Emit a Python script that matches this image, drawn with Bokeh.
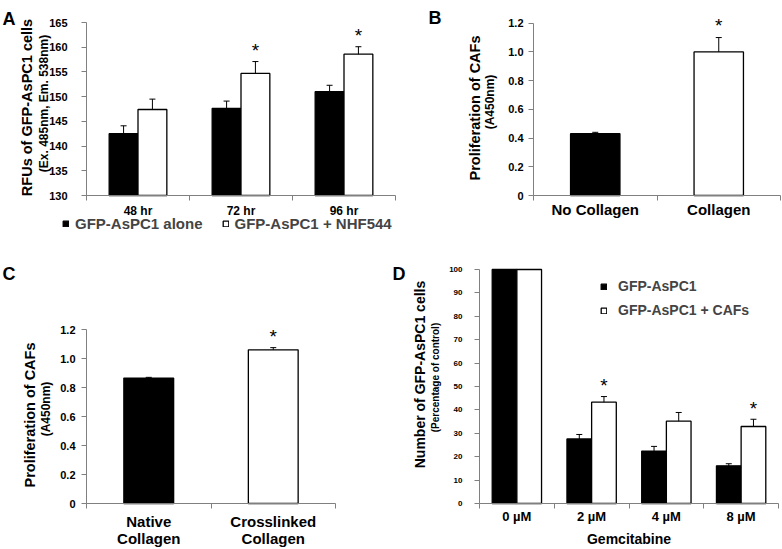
import math
from bokeh.plotting import figure
from bokeh.layouts import row, column
from bokeh.models import (ColumnDataSource, Whisker, TeeHead, FixedTicker, Label,
                          Legend, LegendItem, Range1d, NumeralTickFormatter)
from bokeh.core.properties import value
from bokeh.embed import file_html
from bokeh.resources import INLINE

FONT = "Liberation Sans"
AXIS_COLOR = "#808080"

# ---------------- data ----------------
# Panel A
a_cats = ["48 hr", "72 hr", "96 hr"]
a_alone = [142.5, 147.6, 151.0]
a_alone_err = [1.6, 1.5, 1.3]
a_nhf = [147.4, 154.7, 158.6]
a_nhf_err = [2.1, 2.4, 1.5]
a_sig = [False, True, True]
a_yticks = [130, 135, 140, 145, 150, 155, 160, 165]
a_series = ["GFP-AsPC1 alone", "GFP-AsPC1 + NHF544"]

# Panel B
b_cats = ["No Collagen", "Collagen"]
b_vals = [0.43, 1.0]
b_err = [0.01, 0.10]
b_sig = [False, True]
b_yticks = [0, 0.2, 0.4, 0.6, 0.8, 1.0, 1.2]

# Panel C
c_cats = ["Native\nCollagen", "Crosslinked\nCollagen"]
c_vals = [0.865, 1.06]
c_err = [0.005, 0.015]
c_sig = [False, True]
c_yticks = [0, 0.2, 0.4, 0.6, 0.8, 1.0, 1.2]

# Panel D
d_cats = ["0 µM", "2 µM", "4 µM", "8 µM"]
d_aspc = [100, 27.6, 22.4, 16.1]
d_aspc_err = [0, 1.9, 2.0, 0.9]
d_caf = [100, 43.3, 35.2, 32.9]
d_caf_err = [0, 2.4, 3.7, 3.1]
d_sig = [False, True, False, True]
d_yticks = [0, 10, 20, 30, 40, 50, 60, 70, 80, 90, 100]
d_series = ["GFP-AsPC1", "GFP-AsPC1 + CAFs"]


def make_fig(W, H, box, cats, ylo, yhi, yticks, ytick_size, xtick_size,
             ystandoff, xstandoff):
    """box = (left, top, right, bottom) of the plotting area in canvas pixels.
    The Bokeh frame covers the whole canvas; axes are pinned with fixed_location."""
    n = len(cats)
    l, t, r, b = box
    sx = (r - l) / n
    sy = (b - t) / (yhi - ylo)
    p = figure(width=W, height=H,
               x_range=Range1d(-l / sx, n + (W - r) / sx),
               y_range=Range1d(ylo - (H - b) / sy, yhi + t / sy),
               output_backend="svg", toolbar_location=None,
               min_border_left=0, min_border_right=0, min_border_top=0,
               min_border_bottom=0)
    p.outline_line_color = None
    p.grid.visible = False
    p.background_fill_color = "white"
    p.border_fill_color = "white"
    ya = p.yaxis[0]
    ya.fixed_location = 0
    ya.bounds = (ylo, yhi)
    ya.ticker = FixedTicker(ticks=yticks)
    ya.axis_line_color = AXIS_COLOR
    ya.major_tick_line_color = AXIS_COLOR
    ya.major_tick_out = 5
    ya.major_tick_in = 0
    ya.minor_tick_line_color = None
    ya.major_label_text_font = FONT
    ya.major_label_text_font_style = "bold"
    ya.major_label_text_font_size = ytick_size
    ya.major_label_text_color = "black"
    ya.major_label_standoff = ystandoff
    xa = p.xaxis[0]
    xa.fixed_location = ylo
    xa.bounds = (0, n)
    centers = [i + 0.5 for i in range(n)]
    xa.ticker = FixedTicker(ticks=centers, minor_ticks=list(range(n + 1)))
    xa.major_label_overrides = {c: lab for c, lab in zip(centers, cats)}
    xa.axis_line_color = AXIS_COLOR
    xa.major_tick_line_color = None
    xa.major_tick_out = 0
    xa.major_tick_in = 0
    xa.minor_tick_line_color = AXIS_COLOR
    xa.minor_tick_out = 5
    xa.minor_tick_in = 0
    xa.major_label_text_font = FONT
    xa.major_label_text_font_style = "bold"
    xa.major_label_text_font_size = xtick_size
    xa.major_label_text_color = "black"
    xa.major_label_standoff = xstandoff
    return p


def add_text(p, x, y, text, size, angle=0.0, align="left", baseline="alphabetic"):
    p.add_layout(Label(x=x, y=y, x_units="screen", y_units="screen", text=text,
                       text_font=FONT, text_font_size=size, text_font_style="bold",
                       angle=angle, text_align=align, text_baseline=baseline,
                       text_color="black"))


def add_ylabels(p, main, main_size, mx, my, sub, sub_size, sx_, sy_):
    add_text(p, mx, my, main, main_size, math.pi / 2, "center", "middle")
    add_text(p, sx_, sy_, sub, sub_size, math.pi / 2, "center", "middle")


def add_bars(p, xs, vals, errs, base, color, width):
    src = ColumnDataSource(dict(x=xs, top=vals))
    r = p.vbar(x="x", top="top", width=width, bottom=base, source=src,
               fill_color=color, line_color="black", line_width=1.3)
    ex = [x for x, e in zip(xs, errs) if e > 0]
    up = [v + e for v, e in zip(vals, errs) if e > 0]
    lo = [v - e for v, e in zip(vals, errs) if e > 0]
    esrc = ColumnDataSource(dict(x=ex, upper=up, lower=lo))
    p.add_layout(Whisker(source=esrc, base="x", upper="upper", lower="lower",
                         line_color="black", line_width=1,
                         upper_head=TeeHead(size=6, line_color="black", line_width=1),
                         lower_head=TeeHead(size=6, line_color="black", line_width=1)))
    return r


def add_stars(p, xs, vals, errs, sig, offset):
    sx = [x for x, s in zip(xs, sig) if s]
    sy = [v + e for v, e, s in zip(vals, errs, sig) if s]
    src = ColumnDataSource(dict(x=sx, y=sy, t=["*"] * len(sx)))
    p.text(x="x", y="y", text="t", source=src, text_font=value(FONT),
           text_font_size="19px", text_align="center", text_baseline="middle",
           y_offset=offset, text_color="black")


def legend(items, loc, orientation, size, standoff, spacing):
    return Legend(items=[LegendItem(label=lab, renderers=[r]) for lab, r in items],
                  location=loc, orientation=orientation, glyph_width=7,
                  glyph_height=7, label_standoff=standoff, spacing=spacing,
                  padding=0, margin=0, border_line_color=None,
                  background_fill_alpha=0, label_text_font=FONT,
                  label_text_font_size=size, label_text_font_style="bold",
                  label_height=7)


# ---------------- Panel A ----------------
pa = make_fig(400, 250, (86, 22, 395, 195), a_cats, 130, 165, a_yticks,
              "11px", "12px", 14, 3)
bw_a = 0.28
xa_black = [i + 0.5 - bw_a / 2 for i in range(len(a_cats))]
xa_white = [i + 0.5 + bw_a / 2 for i in range(len(a_cats))]
ra1 = add_bars(pa, xa_black, a_alone, a_alone_err, 130, "black", bw_a)
ra2 = add_bars(pa, xa_white, a_nhf, a_nhf_err, 130, "white", bw_a)
add_stars(pa, xa_white, a_nhf, a_nhf_err, a_sig, -11)
add_text(pa, 2, 232, "A", "18px")
add_ylabels(pa, "RFUs of GFP-AsPC1 cells", "14.5px", 26, 143,
            "(Ex. 485nm, Em. 538nm)", "12px", 43, 147)
pa.add_layout(legend(list(zip(a_series, [ra1, ra2])), (62, 18), "horizontal",
                     "15px", 6, 19))

# ---------------- Panel B ----------------
pb = make_fig(382, 250, (133, 22.7, 380, 195), b_cats, 0, 1.2, b_yticks,
              "11px", "15px", 5, 0)
pb.yaxis[0].formatter = NumeralTickFormatter(format="0.0")
pb.yaxis[0].major_label_overrides = {0: "0"}
bw_b = 0.4
xb = [i + 0.5 for i in range(len(b_cats))]
add_bars(pb, xb[:1], b_vals[:1], b_err[:1], 0, "black", bw_b)
add_bars(pb, xb[1:], b_vals[1:], b_err[1:], 0, "white", bw_b)
add_stars(pb, xb, b_vals, b_err, b_sig, -12)
add_text(pb, 28, 233, "B", "18px")
add_ylabels(pb, "Proliferation of CAFs", "14.5px", 74, 142.5,
            "(A450nm)", "12px", 89, 148.5)

# ---------------- Panel C ----------------
pc = make_fig(390, 299, (86, 79, 335, 253), c_cats, 0, 1.2, c_yticks,
              "11px", "15px", 6, 4)
pc.yaxis[0].formatter = NumeralTickFormatter(format="0.0")
pc.yaxis[0].major_label_overrides = {0: "0"}
pc.xaxis[0].major_label_text_line_height = 1.05
bw_c = 0.4
xc = [i + 0.5 for i in range(len(c_cats))]
add_bars(pc, xc[:1], c_vals[:1], c_err[:1], 0, "black", bw_c)
add_bars(pc, xc[1:], c_vals[1:], c_err[1:], 0, "white", bw_c)
add_stars(pc, xc, c_vals, c_err, c_sig, -11)
add_text(pc, 2, 276, "C", "18px")
add_ylabels(pc, "Proliferation of CAFs", "14.5px", 29, 134.5,
            "(A450nm)", "12px", 45, 140.5)

# ---------------- Panel D ----------------
pd_ = make_fig(392, 299, (89, 19, 388, 253), d_cats, 0, 100, d_yticks,
               "8px", "13px", 12, 0)
xad = pd_.xaxis[0]
xad.axis_label = "Gemcitabine"
xad.axis_label_text_font = FONT
xad.axis_label_text_font_style = "bold"
xad.axis_label_text_font_size = "14px"
xad.axis_label_text_color = "black"
xad.axis_label_standoff = 4
bw_d = 0.33
xd_black = [i + 0.5 - bw_d / 2 for i in range(len(d_cats))]
xd_white = [i + 0.5 + bw_d / 2 for i in range(len(d_cats))]
rd1 = add_bars(pd_, xd_black, d_aspc, d_aspc_err, 0, "black", bw_d)
rd2 = add_bars(pd_, xd_white, d_caf, d_caf_err, 0, "white", bw_d)
add_stars(pd_, xd_white, d_caf, d_caf_err, d_sig, -11)
add_text(pd_, 2, 276, "D", "18px")
add_ylabels(pd_, "Number of GFP-AsPC1 cells", "14px", 29, 175,
            "(Percentage of control)", "10px", 45, 172)
pd_.add_layout(legend(list(zip(d_series, [rd1, rd2])), (210, 231), "vertical",
                      "14px", 11, 8))

layout = column(row(pa, pb), row(pc, pd_))
open("out.html", "w").write(file_html(layout, INLINE))
